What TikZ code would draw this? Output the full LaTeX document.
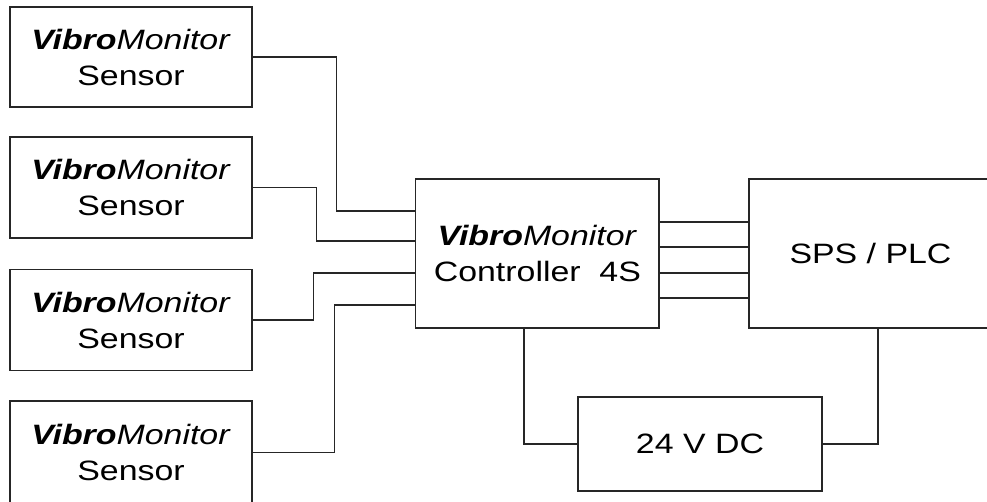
\documentclass[tikz,border=0pt]{standalone}
\usepackage{fontspec}
\usepackage{graphicx}
\setmainfont{Liberation Sans}
\newcommand{\sx}[1]{\scalebox{1.21}[1]{#1}}
\newcommand{\vm}{\sx{\textbf{\textit{Vibro}}\textit{Monitor}}}
\begin{document}
\begin{tikzpicture}[x=1pt,y=-1pt,
  blk/.style={draw=black!85, line width=1.2pt, rectangle, inner sep=0pt, align=center,
    font=\fontsize{28}{36}\selectfont},
  sensorbox/.style={blk, minimum width=242pt},
  wire/.style={draw=black!85, line width=1.2pt}]
\useasboundingbox (0,0) rectangle (987,501);
\clip (0,0) rectangle (987,501);
% sensors
\node[sensorbox, minimum height=100pt] (s1) at (131,57) {\vm\\\sx{Sensor}};
\node[sensorbox, minimum height=101pt] (s2) at (131,187.5) {\vm\\\sx{Sensor}};
\node[sensorbox, minimum height=101pt] (s3) at (131,320) {\vm\\\sx{Sensor}};
\node[sensorbox, minimum height=103pt] (s4) at (131,452.5) {\vm\\\sx{Sensor}};
% controller
\node[blk, minimum width=243.3pt, minimum height=149pt] (c) at (537.4,253.5) {\vm\\\sx{Controller~ 4S}};
% PLC
\node[blk, minimum width=243pt, minimum height=149pt] (p) at (870.5,253.5) {\sx{SPS / PLC}};
% power
\node[blk, minimum width=244pt, minimum height=94pt] (dc) at (700,444) {\sx{24 V DC}};
% sensor wires
\draw[wire] (s1.east) -- ++(84,0) |- ([yshift=42.5pt]c.west);
\draw[wire] (s2.east) -- ++(64,0) |- ([yshift=12.5pt]c.west);
\draw[wire] (s3.east) -- ++(61,0) |- ([yshift=-19.5pt]c.west);
\draw[wire] (s4.east) -- ++(82,0) |- ([yshift=-51.5pt]c.west);
% controller to PLC
\foreach \dy in {31.5,6.5,-19.5,-44.5}
  \draw[wire] ([yshift=\dy pt]c.east) -- ([yshift=\dy pt]c.east -| p.west);
% power wires
\draw[wire] ([xshift=-13.5pt]c.south) |- (dc.west);
\draw[wire] ([xshift=7.5pt]p.south) |- (dc.east);
\end{tikzpicture}
\end{document}
